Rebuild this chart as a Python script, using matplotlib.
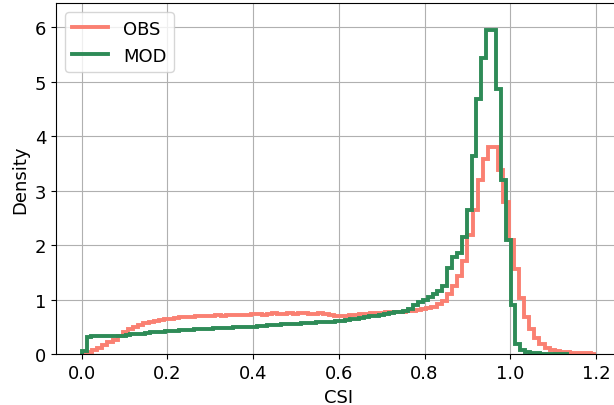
import numpy as np
import matplotlib
matplotlib.use("Agg")
import matplotlib.pyplot as plt

# density per bin
obs_range = (0.0, 1.2)
obs_density = [
    0.01, 0.04, 0.08, 0.12, 0.17, 0.22, 0.27, 0.33, 0.40, 0.46,
    0.50, 0.54, 0.57, 0.60, 0.62, 0.63, 0.64, 0.65, 0.66, 0.68,
    0.68, 0.69, 0.70, 0.70, 0.71, 0.71, 0.72, 0.71, 0.72, 0.72,
    0.73, 0.73, 0.73, 0.74, 0.74, 0.73, 0.74, 0.75, 0.74, 0.74,
    0.75, 0.74, 0.75, 0.75, 0.74, 0.74, 0.75, 0.74, 0.73, 0.71,
    0.70, 0.71, 0.72, 0.73, 0.74, 0.74, 0.75, 0.76, 0.76, 0.77,
    0.77, 0.78, 0.78, 0.79, 0.80, 0.81, 0.83, 0.85, 0.87, 0.92,
    0.98, 1.11, 1.26, 1.44, 1.72, 2.18, 2.64, 3.19, 3.59, 3.80,
    3.80, 3.38, 2.80, 2.09, 1.57, 1.04, 0.68, 0.46, 0.29, 0.18,
    0.12, 0.08, 0.06, 0.05, 0.04, 0.03, 0.03, 0.02, 0.02, 0.01,
]

mod_range = (0.0, 1.137)
mod_density = [
    0.06, 0.31, 0.33, 0.33, 0.33, 0.33, 0.34, 0.33, 0.34, 0.36,
    0.37, 0.38, 0.38, 0.39, 0.40, 0.41, 0.40, 0.42, 0.42, 0.43,
    0.44, 0.44, 0.45, 0.46, 0.46, 0.47, 0.47, 0.48, 0.48, 0.49,
    0.49, 0.50, 0.50, 0.50, 0.51, 0.51, 0.52, 0.52, 0.53, 0.53,
    0.54, 0.55, 0.55, 0.56, 0.56, 0.57, 0.57, 0.58, 0.59, 0.59,
    0.60, 0.60, 0.61, 0.62, 0.63, 0.64, 0.65, 0.67, 0.68, 0.70,
    0.71, 0.73, 0.74, 0.75, 0.77, 0.78, 0.80, 0.84, 0.90, 0.96,
    1.00, 1.06, 1.11, 1.17, 1.25, 1.58, 1.78, 1.86, 2.16, 2.64,
    3.63, 4.68, 5.43, 5.95, 5.95, 4.87, 3.19, 2.09, 0.90, 0.18,
    0.08, 0.04, 0.03, 0.02, 0.01, 0.01, 0.005, 0.005, 0.003, 0.002,
]

plt.rcParams['font.size'] = 13

fig = plt.figure(figsize=(6.14, 4.06), dpi=100)
ax = fig.add_axes([56 / 614, 50.7 / 406, 565.7 / 614, 351 / 406])

obs_edges = np.linspace(obs_range[0], obs_range[1], len(obs_density) + 1)
mod_edges = np.linspace(mod_range[0], mod_range[1], len(mod_density) + 1)

ax.stairs(obs_density, obs_edges, color='salmon', linewidth=2.8, label='OBS')
ax.stairs(mod_density, mod_edges, color='seagreen', linewidth=2.8, label='MOD')

ax.set_xlim(-0.06, 1.26)
ax.set_ylim(0, 6.44)
ax.set_xticks(np.arange(0, 1.21, 0.2))
ax.set_yticks(range(0, 7))
ax.grid(True)
ax.set_axisbelow(True)
ax.set_xlabel('CSI')
ax.set_ylabel('Density')
ax.legend(loc='upper left')

fig.savefig('out.png', dpi=100)
